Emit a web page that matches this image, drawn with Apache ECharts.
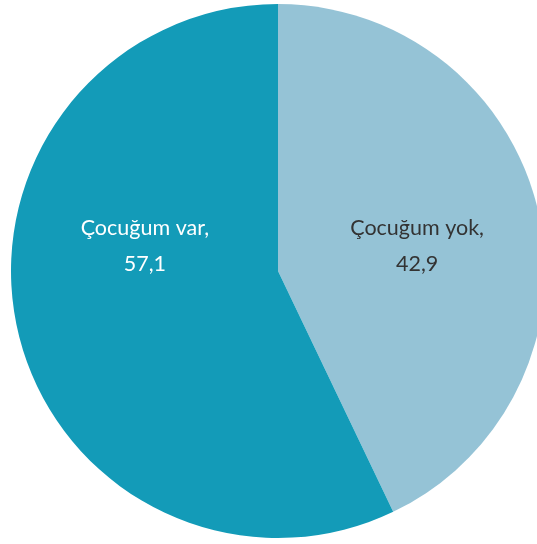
<!DOCTYPE html>
<html>
<head>
<meta charset="utf-8">
<script src="https://cdn.jsdelivr.net/npm/echarts@6/dist/echarts.min.js"></script>
<style>
  html, body { margin: 0; padding: 0; background: #fff; }
  #chart { width: 537px; height: 544px; }
</style>
</head>
<body>
<div id="chart"></div>
<script>
const categories = ['Çocuğum yok', 'Çocuğum var'];
const values = [42.9, 57.1];
const colors = ['#95C3D6', '#139BB8'];
const labelColors = ['#333333', '#ffffff'];

const chart = echarts.init(document.getElementById('chart'));

const seriesData = categories.map((name, i) => ({
  name,
  value: values[i],
  itemStyle: { color: colors[i] },
  label: { color: labelColors[i] },
}));

chart.setOption({
  animation: false,
  series: [
    {
      type: 'pie',
      center: [278, 271],
      radius: 267,
      startAngle: 90,
      clockwise: true,
      data: seriesData,
      label: {
        show: true,
        position: 'inside',
        fontFamily: 'Lato',
        fontSize: 21.5,
        lineHeight: 36,
        formatter: (p) => `${p.name},\n${String(p.value).replace('.', ',')}`,
      },
      labelLine: { show: false },
      labelLayout: (params) => (params.dataIndex === 1 ? { dx: 0, dy: -55 } : { dx: 6, dy: 5 }),
      itemStyle: { borderWidth: 0 },
      emphasis: { disabled: true },
    },
  ],
});
</script>
</body>
</html>
